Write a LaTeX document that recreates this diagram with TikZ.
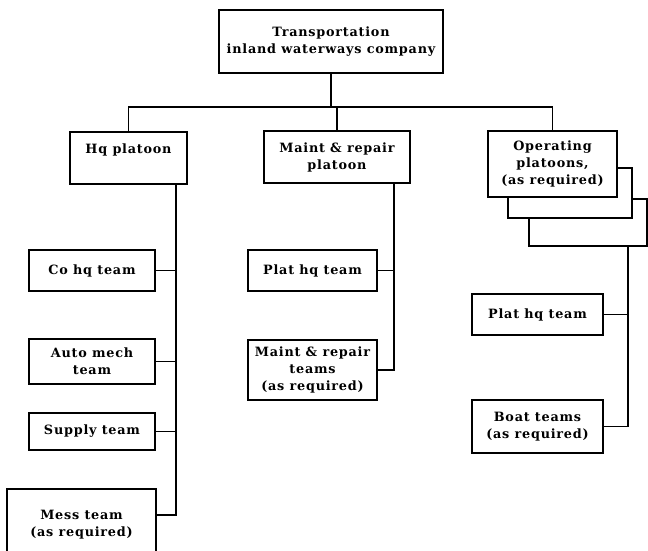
\documentclass[tikz,border=0pt]{standalone}
\usepackage{fontspec}
\setmainfont{DejaVu Serif}[LetterSpace=6]
\begin{document}
\begin{tikzpicture}[x=1pt,y=-1pt,
  box/.style={draw, line width=1.6pt, fill=white, inner sep=0pt, align=center,
    font=\bfseries\fontsize{12.8}{17}\selectfont},
  conn/.style={line width=1.4pt}]
\useasboundingbox (0,0) rectangle (648,550);
\clip (0,0) rectangle (648,550);
% top
\node[box, minimum width=224, minimum height=63] (top) at (331,41.5) {Transportation\\inland waterways company};
% platoons
\node[box, minimum width=117, minimum height=52] (hq) at (128.5,158) {Hq platoon\\[2pt]~};
\node[box, minimum width=146, minimum height=52] (maint) at (337,157) {Maint \& repair\\platoon};
\node[box, minimum width=118, minimum height=47] (op3) at (588,222.5) {};
\node[box, minimum width=124, minimum height=50] (op2) at (570,193) {};
\node[box, minimum width=129, minimum height=66] (op1) at (552.5,164) {Operating\\platoons,\\(as required)};
% hq teams
\node[box, minimum width=126, minimum height=41] (co) at (92,270.5) {Co hq team};
\node[box, minimum width=126, minimum height=45] (auto) at (92,361.5) {Auto mech\\team};
\node[box, minimum width=126, minimum height=37] (supply) at (92,431.5) {Supply team};
\node[box, minimum width=149, minimum height=71] (mess) at (81.5,524.5) {Mess team\\(as required)};
% maint teams
\node[box, minimum width=129, minimum height=41] (mplat) at (312.5,270.5) {Plat hq team};
\node[box, minimum width=129, minimum height=60] (mteams) at (312.5,370) {Maint \& repair\\teams\\(as required)};
% operating teams
\node[box, minimum width=131, minimum height=41] (rplat) at (537.5,314.5) {Plat hq team};
\node[box, minimum width=131, minimum height=53] (boat) at (537.5,426.5) {Boat teams\\(as required)};
% bus
\coordinate (bus) at (333,107);
\draw[conn] (top.south) -- (top.south |- bus);
\draw[conn] (hq.north) -- (hq.north |- bus) -- (op1.north |- bus) -- (op1.north);
\draw[conn] (maint.north) -- (maint.north |- bus);
% hq trunk
\coordinate (hqt) at (176,184);
\coordinate (messc) at (156,515);
\draw[conn] (hqt) -- (hqt |- messc) -- (messc);
\draw[conn] (co.east) -- (co.east -| hqt);
\draw[conn] (auto.east) -- (auto.east -| hqt);
\draw[conn] (supply.east) -- (supply.east -| hqt);
% maint trunk
\coordinate (mt) at (394,183);
\draw[conn] (mt) -- (mt |- mteams.east) -- (mteams.east);
\draw[conn] (mplat.east) -- (mplat.east -| mt);
% operating trunk
\coordinate (ot) at (628,246);
\draw[conn] (ot) -- (ot |- boat.east) -- (boat.east);
\draw[conn] (rplat.east) -- (rplat.east -| ot);
\end{tikzpicture}
\end{document}
